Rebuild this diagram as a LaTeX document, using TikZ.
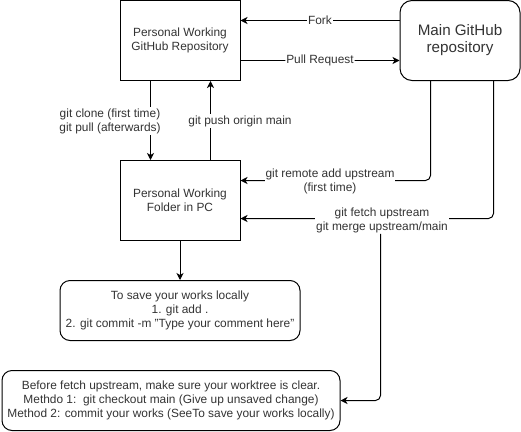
\documentclass[tikz,border=0pt]{standalone}
\usepackage{fontspec}
\setmainfont{Liberation Sans}
\usetikzlibrary{arrows.meta}
\definecolor{txt}{HTML}{333333}
\begin{document}
\begin{tikzpicture}[x=1pt,y=-1pt,
  every node/.style={text=txt,font=\fontsize{11.9}{14}\selectfont,align=center,inner sep=1pt},
  sqbox/.style={draw=black,line width=1pt,minimum width=120pt,minimum height=80pt,inner sep=0pt},
  rbox/.style={draw=black,line width=1pt,rounded corners=10pt,inner sep=0pt},
  conn/.style={draw=black,line width=1pt,-{Stealth[length=7pt,width=7pt,inset=2pt]},rounded corners=5pt},
  lbl/.style={fill=white}]
\useasboundingbox (0,0) rectangle (521,431);
\node[sqbox] (repo) at (180,40.5) {Personal Working\\GitHub Repository};
\node[sqbox,rounded corners=12pt,font=\fontsize{15.2}{17}\selectfont] (main) at (460,40.5) {Main GitHub\\repository};
\node[sqbox] (folder) at (180,200.5) {Personal Working\\Folder in PC};
\node[rbox,minimum width=240pt,minimum height=60pt] (save) at (180,310.5) {To save your works locally\\1. git add .\\2. git commit -m "Type your comment here"};
\node[rbox,minimum width=338pt,minimum height=60pt] (before) at (171,400.5) {Before fetch upstream, make sure your worktree is clear.\\Methdo 1:\ \ git checkout main (Give up unsaved change)\\Method 2: commit your works (SeeTo save your works locally)};
% Fork
\draw[conn] (main.west |- 0,20.5) -- node[lbl] {Fork} (repo.east |- 0,20.5);
% Pull request
\draw[conn] (repo.east |- 0,60.5) -- node[lbl] {Pull Request} (main.west |- 0,60.5);
% clone / pull
\draw[conn] (repo.south -| 150.5,0) -- (folder.north -| 150.5,0);
\node[lbl] (clonelbl) at (110,121) {git clone (first time)\\git pull (afterwards)};
% push
\draw[conn] (folder.north -| 210.5,0) -- (repo.south -| 210.5,0);
\node[lbl] (pushlbl) at (240,121) {git push origin main};
% remote add
\coordinate (ra) at (430.5,180.5);
\draw[conn] (main.south -| ra) |- (folder.east |- ra);
\node[lbl] (ralbl) at (330,181) {git remote add upstream\\(first time)};
% fetch
\coordinate (fe) at (493.5,218.5);
\draw[conn] (main.south -| fe) |- (folder.east |- fe);
\node[lbl] (felbl) at (382,220) {git fetch upstream\\git merge upstream/main};
% fetch note
\draw[conn] (felbl.south -| 380.5,0) |- (before.east |- 0,400.5);
% folder to save
\draw[conn] (folder.south) -- (save.north);
\end{tikzpicture}
\end{document}
